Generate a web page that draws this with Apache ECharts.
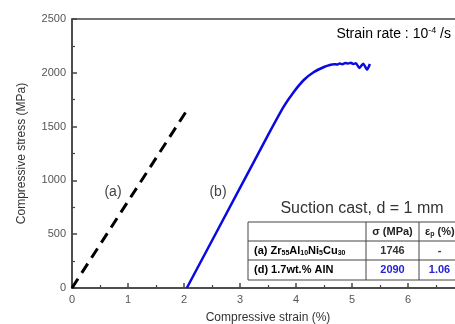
<!DOCTYPE html>
<html>
<head>
<meta charset="utf-8">
<script src="https://cdn.jsdelivr.net/npm/echarts@6/dist/echarts.min.js"></script>
<style>
  html, body { margin: 0; padding: 0; background: #fff; }
  #main { width: 455px; height: 324px; }
</style>
</head>
<body>
<div id="main"></div>
<script>
// curve (a): Zr55Al10Ni5Cu30, dashed
const curveA = [[0, 0], [2.05, 1650]];
// curve (b): 1.7wt.% AlN
const curveB = [
  [2.05, 0], [3.0, 930], [3.5, 1420], [3.78, 1685], [3.96, 1822], [4.14, 1933],
  [4.32, 2007], [4.5, 2054], [4.62, 2075], [4.68, 2080], [4.73, 2077], [4.78, 2086],
  [4.83, 2080], [4.88, 2090], [4.93, 2086], [4.98, 2093], [5.02, 2082], [5.07, 2088],
  [5.13, 2045], [5.2, 2085], [5.27, 2030], [5.32, 2082]
];
const xTicks = [0, 7, 1];
const yTicks = [0, 2500, 500];
const tableHeader = ['', 'σ (MPa)', 'εp (%)'];
const tableRows = [
  ['(a) Zr55Al10Ni5Cu30', '1746', '-'],
  ['(d) 1.7wt.% AlN', '2090', '1.06']
];

const chart = echarts.init(document.getElementById('main'));
const axisColor = '#444';
const font = 'Liberation Sans, Arial, sans-serif';

// table layout
const tX = [248, 366, 419, 470];
const tY = [222, 241, 260, 280];
const tableEls = [
  { type: 'rect', shape: { x: tX[0], y: tY[0], width: tX[3] - tX[0], height: tY[3] - tY[0] },
    style: { fill: '#fff', stroke: axisColor, lineWidth: 1 }, z: 100 }
];
for (let i = 1; i < 3; i++) {
  tableEls.push({ type: 'line', shape: { x1: tX[0], y1: tY[i], x2: tX[3], y2: tY[i] },
    style: { stroke: axisColor, lineWidth: 1 }, z: 101 });
  tableEls.push({ type: 'line', shape: { x1: tX[i], y1: tY[0], x2: tX[i], y2: tY[3] },
    style: { stroke: axisColor, lineWidth: 1 }, z: 101 });
}
const rich = {
  n: { fontFamily: font, fontWeight: 'bold', fontSize: 11 },
  s: { fontFamily: font, fontWeight: 'bold', fontSize: 7, verticalAlign: 'bottom', padding: [6, 0, 0, 0] }
};
function richName(str) {
  // digits after letters -> subscript
  return str.replace(/([A-Za-z])(\d+)/g, (m, a, d) => a + '{s|' + d + '}')
    .split(/(\{s\|\d+\})/).map(p => p.startsWith('{s|') ? p : (p ? '{n|' + p + '}' : '')).join('');
}
function cellText(x, y, text, color, align, richOn) {
  tableEls.push({
    type: 'text', x: x, y: y, z: 102,
    style: {
      text: text, fill: color, align: align, verticalAlign: 'middle',
      font: 'bold 11px ' + font, rich: richOn ? rich : undefined
    }
  });
}
cellText((tX[1] + tX[2]) / 2, (tY[0] + tY[1]) / 2, tableHeader[1], '#222', 'center');
cellText(tX[2] + 6, (tY[0] + tY[1]) / 2, '{n|ε}{s|p}{n| (%)}', '#222', 'left', true);
const rowColors = ['#333', '#2424d6'];
tableRows.forEach((r, i) => {
  const cy = (tY[i + 1] + tY[i + 2]) / 2;
  const c = rowColors[i];
  const richLocal = {
    n: Object.assign({}, rich.n, { color: c }),
    s: Object.assign({}, rich.s, { color: c })
  };
  tableEls.push({
    type: 'text', x: tX[0] + 6, y: cy, z: 102,
    style: { text: i === 0 ? richName(r[0]) : '{n|' + r[0] + '}', align: 'left', verticalAlign: 'middle', rich: richLocal }
  });
  cellText((tX[1] + tX[2]) / 2, cy, r[1], c, 'center');
  cellText((tX[2] + tX[3] - 10) / 2, cy, r[2], c, 'center');
});

const option = {
  animation: false,
  grid: {
    left: 72, top: 19, width: 392, bottom: 36, show: true,
    borderColor: axisColor, borderWidth: 1.5, outerBoundsMode: 'none', containLabel: false
  },
  xAxis: {
    type: 'value', min: xTicks[0], max: xTicks[1], interval: xTicks[2],
    name: 'Compressive strain (%)', nameLocation: 'middle', nameGap: 24,
    nameTextStyle: { fontFamily: font, fontSize: 12, color: '#333' },
    axisLine: { lineStyle: { color: axisColor, width: 1.5 } },
    axisTick: { inside: true, length: 5, lineStyle: { color: axisColor, width: 1.5 } },
    minorTick: { show: true, splitNumber: 2, length: 3, lineStyle: { color: axisColor, width: 1.2 } },
    axisLabel: { fontFamily: font, fontSize: 11, color: '#555', margin: 6 },
    splitLine: { show: false }
  },
  yAxis: {
    type: 'value', min: yTicks[0], max: yTicks[1], interval: yTicks[2],
    name: 'Compressive stress (MPa)', nameLocation: 'middle', nameGap: 44,
    nameTextStyle: { fontFamily: font, fontSize: 12, color: '#333' },
    axisLine: { lineStyle: { color: axisColor, width: 1.5 } },
    axisTick: { inside: true, length: 5, lineStyle: { color: axisColor, width: 1.5 } },
    minorTick: { show: true, splitNumber: 2, length: 3, lineStyle: { color: axisColor, width: 1.2 } },
    axisLabel: { fontFamily: font, fontSize: 11, color: '#555', margin: 6, formatter: v => String(v) },
    splitLine: { show: false }
  },
  series: [
    {
      name: '(a)', type: 'line', data: curveA, showSymbol: false, z: 3,
      lineStyle: { color: '#000', width: 3, type: [11, 7] }
    },
    {
      name: '(b)', type: 'line', data: curveB, showSymbol: false, z: 3, smooth: 0.2,
      lineStyle: { color: '#0a0ae0', width: 2.5 }
    }
  ],
  graphic: [
    { type: 'text', x: 451, y: 34, style: { text: '{n|Strain rate : 10}{sup|-4}{n| /s}', align: 'right', verticalAlign: 'middle',
      rich: { n: { fontFamily: font, fontSize: 14, color: '#333' }, sup: { fontFamily: font, fontSize: 9, color: '#333', verticalAlign: 'top', padding: [0, 0, 6, 0] } } } },
    { type: 'text', x: 113, y: 192, style: { text: '(a)', fill: '#444', font: '14px ' + font, align: 'center', verticalAlign: 'middle' } },
    { type: 'text', x: 218, y: 192, style: { text: '(b)', fill: '#444', font: '14px ' + font, align: 'center', verticalAlign: 'middle' } },
    { type: 'text', x: 362, y: 209, style: { text: 'Suction cast, d = 1 mm', fill: '#333', font: '16px ' + font, align: 'center', verticalAlign: 'middle' } }
  ].concat(tableEls)
};
chart.setOption(option);
</script>
</body>
</html>
